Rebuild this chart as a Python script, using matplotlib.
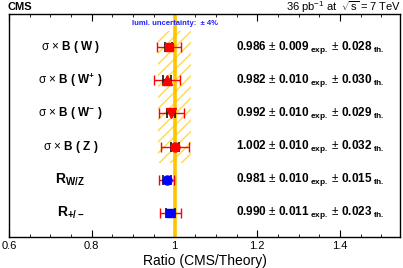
import numpy as np
import matplotlib
matplotlib.use("Agg")
import matplotlib.pyplot as plt
from matplotlib.ticker import MultipleLocator

plt.rcParams['font.family'] = ['Liberation Sans', 'DejaVu Sans']
plt.rcParams['mathtext.fontset'] = 'custom'
plt.rcParams['mathtext.rm'] = 'Liberation Sans'
plt.rcParams['mathtext.bf'] = 'Liberation Sans:bold'
plt.rcParams['mathtext.it'] = 'Liberation Sans:italic'
plt.rcParams['mathtext.sf'] = 'Liberation Sans'
plt.rcParams['hatch.linewidth'] = 1.0

# ---- data ----
labels = [r"σ × $\mathbf{B\ (\ W\ )}$",
          r"σ × $\mathbf{B\ (\ W^{+}\ )}$",
          r"σ × $\mathbf{B\ (\ W^{-}\ )}$",
          r"σ × $\mathbf{B\ (\ Z\ )}$",
          r"$\mathbf{R_{W/Z}}$",
          r"$\mathbf{R_{+/-}}$"]
values = [0.986, 0.982, 0.992, 1.002, 0.981, 0.990]
exp_err = [0.009, 0.010, 0.010, 0.010, 0.010, 0.011]
th_err = [0.028, 0.030, 0.029, 0.032, 0.015, 0.023]
markers = ['s', '^', 'v', 'o', 'o', 's']
colors = ['red', 'red', 'red', 'red', 'blue', 'blue']
lumi_unc = 0.04

fig = plt.figure(figsize=(4.03, 2.68), dpi=100)
ax = fig.add_axes([9/403, 1 - 237/268, (400 - 9)/403, (237 - 14)/268])

n = len(values)
ypos = np.arange(n, 0, -1)

ax.set_xlim(0.6, 1.545)
ax.set_ylim(0.27, 7.0)

# lumi band
ax.fill_between([1 - lumi_unc, 1 + lumi_unc], 2.5, 6.5, facecolor='none',
                edgecolor='#FFD84A', hatch='///', linewidth=0)
ax.axvline(1.0, color='#FFC400', lw=2.6, zorder=2)

for i in range(n):
    v = values[i]
    y = ypos[i]
    tot = np.hypot(exp_err[i], th_err[i])
    ax.errorbar(v, y, xerr=tot, fmt='none', ecolor='red', elinewidth=1.0,
                capsize=3.5, capthick=1.0, zorder=3)
    ax.errorbar(v, y, xerr=exp_err[i], fmt='none', ecolor='#222222', elinewidth=1.3,
                capsize=3.5, capthick=1.3, zorder=4)
    ms = 6.5 if markers[i] in ('^', 'v', 'o') else 6
    ax.plot(v, y, marker=markers[i], color=colors[i], ms=ms, mec=colors[i], zorder=5,
            ls='none')
    fs = 10 if i >= 4 else 8.5
    ax.text(0.748, y, labels[i], ha='center', va='center', fontsize=fs)
    txt = (r"$\mathbf{%.3f}$ ± $\mathbf{%.3f}_{\mathbf{\ exp.}}$ ± $\mathbf{%.3f}_{\mathbf{\ th.}}$"
           % (v, exp_err[i], th_err[i]))
    ax.text(1.148, y, txt, ha='left', va='center', fontsize=8.5)

ax.text(1.0, 6.72, r"lumi. uncertainty:  ± 4%", ha='center', va='center',
        fontsize=5.5, color='#2020FF', fontweight='bold')

ax.xaxis.set_major_locator(MultipleLocator(0.2))
ax.xaxis.set_minor_locator(MultipleLocator(0.05))
ax.tick_params(axis='x', which='both', direction='in', top=True, labelsize=8, pad=3)
ax.tick_params(axis='x', which='major', length=5)
ax.tick_params(axis='x', which='minor', length=2.5)
ax.set_xticks([0.6, 0.8, 1.0, 1.2, 1.4])
ax.set_xticklabels(['0.6', '0.8', '1', '1.2', '1.4'])
ax.set_yticks([])
for s in ax.spines.values():
    s.set_linewidth(1.0)
ax.set_xlabel('Ratio (CMS/Theory)', fontsize=10, labelpad=1)
ax.xaxis.set_label_coords(0.5, -0.075)

fig.text(8/403, 1 - 7/268, 'CMS', ha='left', va='center', fontsize=8, fontweight='bold')
fig.text(401/403, 1 - 7/268, r"36 pb$^{\mathregular{-1}}$ at  $\sqrt{\mathregular{s}}$ = 7 TeV",
         ha='right', va='center', fontsize=8)

fig.savefig('out.png', dpi=100)
